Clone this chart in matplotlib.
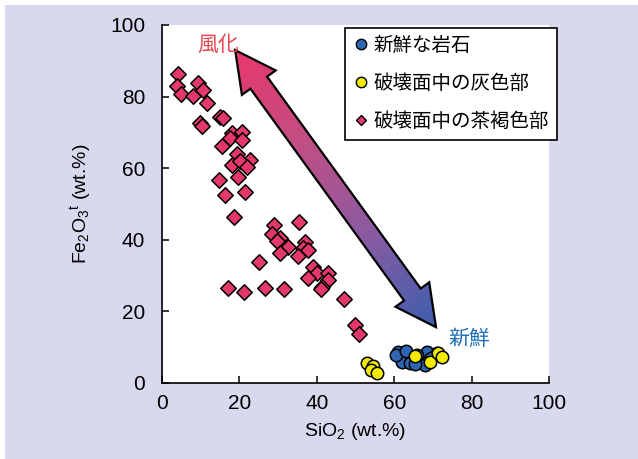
import numpy as np
import matplotlib
matplotlib.use("Agg")
import matplotlib.pyplot as plt
from matplotlib.patches import Polygon, Rectangle
from matplotlib.lines import Line2D
from matplotlib.colors import LinearSegmentedColormap

plt.rcParams['font.family'] = ['Liberation Sans', 'Noto Sans CJK JP']
plt.rcParams['mathtext.default'] = 'regular'

# 新鮮な岩石
fresh_x = [61.1, 62.4, 63.2, 61.9, 64.5, 66.7, 68.4, 67.5, 68.0, 71.0, 60.5, 64.0, 66.0, 69.5, 63.0, 65.5]
fresh_y = [8.7, 7.3, 7.8, 6.0, 6.8, 6.4, 8.7, 5.5, 5.0, 8.3, 7.8, 5.6, 7.9, 7.0, 8.9, 5.2]
# 破壊面中の灰色部
gray_x = [52.9, 54.6, 53.9, 55.5, 65.4, 69.3, 71.4, 72.3]
gray_y = [5.5, 4.8, 3.6, 2.7, 7.5, 6.0, 8.3, 7.2]
# 破壊面中の茶褐色部
brown_x = [4.2, 3.8, 4.8, 8.1, 9.4, 10.5, 11.7, 9.8, 10.3, 15.0, 15.8, 15.4, 18.0, 20.6,
           17.6, 20.6, 19.3, 22.7, 18.0, 20.2, 22.0, 19.7, 14.8, 21.4, 16.3, 18.6, 29.0,
           35.5, 28.5, 30.5, 29.8, 32.6, 30.5, 37.0, 36.4, 37.8, 35.2, 25.1, 39.1, 40.0,
           42.8, 37.6, 43.0, 41.3, 41.0, 17.1, 21.3, 26.6, 31.4, 46.9, 49.9, 50.9]
brown_y = [86.3, 83.0, 80.7, 80.2, 83.7, 81.8, 78.1, 72.5, 71.8, 74.4, 74.0, 66.2, 69.7, 70.2,
           68.3, 68.0, 64.1, 62.3, 60.9, 62.0, 60.4, 57.6, 56.7, 53.4, 52.5, 46.5, 44.1,
           45.1, 41.6, 40.4, 39.8, 38.1, 36.2, 39.5, 37.6, 37.2, 35.5, 33.8, 32.3, 30.6,
           30.8, 29.4, 28.9, 26.9, 26.2, 26.6, 25.3, 26.6, 26.3, 23.6, 16.2, 13.7]

labels = ['新鮮な岩石', '破壊面中の灰色部', '破壊面中の茶褐色部']
arrow_start = (18.9, 93.0)   # 風化 end
arrow_end = (70.8, 15.6)     # 新鮮 end

BLUE = '#2f66b3'
YELLOW = '#f2ea00'
PINK = '#e5386a'
BG = '#d8d8ee'

fig = plt.figure(figsize=(6.38, 4.59), dpi=100)
fig.patch.set_facecolor('white')
fig.add_artist(Rectangle((5 / 638, -0.1), 1.2, 1.1 - 5 / 459, transform=fig.transFigure,
                         facecolor=BG, edgecolor='none', zorder=-10))

ax = fig.add_axes([162 / 638, 1 - 383 / 459, 387 / 638, 358 / 459])
ax.set_facecolor('white')
ax.set_xlim(0, 100)
ax.set_ylim(0, 100)
ax.set_xticks(np.arange(0, 101, 20))
ax.set_yticks(np.arange(0, 101, 20))
for s in ['top', 'right']:
    ax.spines[s].set_visible(False)
for s in ['left', 'bottom']:
    ax.spines[s].set_linewidth(1.2)
ax.tick_params(direction='in', length=5, width=1.1, labelsize=15)
ax.tick_params(axis='y', pad=12)
ax.tick_params(axis='x', pad=8)
ax.set_xlabel('SiO$_2$ (wt.%)', fontsize=14, labelpad=6)
ax.set_ylabel('Fe$_2$O$_3$$^t$ (wt.%)', fontsize=14, labelpad=12)

# gradient double arrow
dpx = fig.dpi / 72
p0 = ax.transData.transform(arrow_start)
p1 = ax.transData.transform(arrow_end)
u = (p1 - p0) / np.hypot(*(p1 - p0))
n = np.array([-u[1], u[0]])
L, H, W = 29 * dpx, 15 * dpx, 7.4 * dpx
pts = [p0, p0 + L * u + H * n, p0 + L * u + W * n, p1 - L * u + W * n, p1 - L * u + H * n,
       p1, p1 - L * u - H * n, p1 - L * u - W * n, p0 + L * u - W * n, p0 + L * u - H * n]
pts_data = ax.transData.inverted().transform(np.array(pts))
arrow = Polygon(pts_data, closed=True, facecolor='none', edgecolor='black', lw=1.6, zorder=4)
ax.add_patch(arrow)

gx, gy = np.meshgrid(np.linspace(0, 100, 300), np.linspace(0, 100, 300))
disp = ax.transData.transform(np.column_stack([gx.ravel(), gy.ravel()]))
t = ((disp - p0) @ u) / np.hypot(*(p1 - p0))
t = np.clip(t, 0, 1).reshape(gx.shape)
cmap = LinearSegmentedColormap.from_list('w', ['#e8386c', '#c14f84', '#8a5ba2', '#3d5fae'])
im = ax.imshow(t, extent=(0, 100, 0, 100), origin='lower', cmap=cmap, vmin=0, vmax=1,
               aspect='auto', zorder=3, interpolation='bilinear')
clip = Polygon(pts_data, closed=True, transform=ax.transData)
im.set_clip_path(clip)

ax.text(14.5, 94.5, '風化', color='#e8454e', fontsize=15, ha='center', va='center', zorder=5)
ax.text(79.3, 12.3, '新鮮', color='#1d6fb8', fontsize=15, ha='center', va='center', zorder=5)

ax.scatter(brown_x, brown_y, marker='D', s=62, facecolor=PINK, edgecolor='black', lw=1.1, zorder=6)
ax.scatter(fresh_x, fresh_y, marker='o', s=80, facecolor=BLUE, edgecolor='black', lw=1.1, zorder=6)
ax.scatter(gray_x, gray_y, marker='o', s=80, facecolor=YELLOW, edgecolor='black', lw=1.1, zorder=7)

handles = [
    Line2D([], [], ls='none', marker='o', ms=7.5, mfc=BLUE, mec='black', mew=1.0),
    Line2D([], [], ls='none', marker='o', ms=7.5, mfc=YELLOW, mec='black', mew=1.0),
    Line2D([], [], ls='none', marker='D', ms=5.5, mfc=PINK, mec='black', mew=1.0),
]
leg = ax.legend(handles, labels, loc='upper left', bbox_to_anchor=(0.473, 0.992),
                borderaxespad=0, fontsize=14, labelspacing=1.0, handlelength=0.7,
                handletextpad=0.3, borderpad=0.45, fancybox=False, framealpha=1,
                edgecolor='black')
leg.get_frame().set_linewidth(1.2)
leg.set_zorder(10)

fig.savefig('out.png', dpi=100, facecolor=fig.get_facecolor())
